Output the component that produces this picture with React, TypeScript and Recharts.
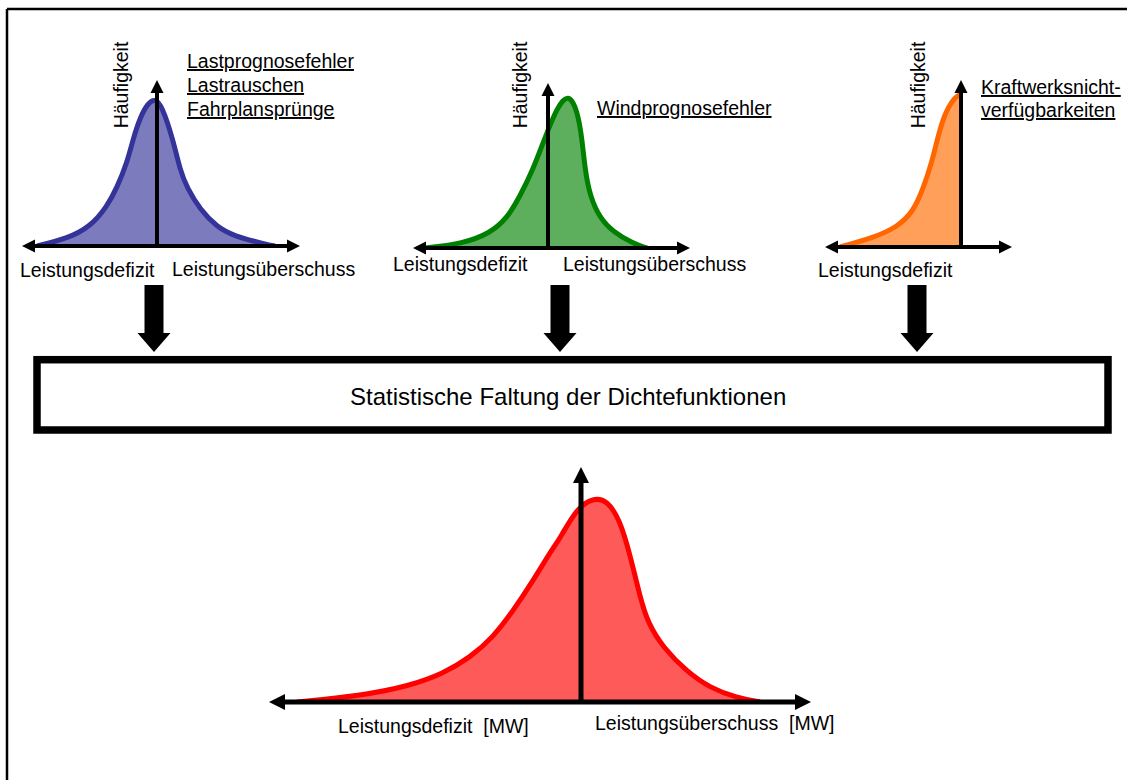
import React from 'react';
import { AreaChart, Area, XAxis, YAxis, ReferenceLine } from 'recharts';

// Leistungsabweichung (relativ zur Null) und relative Häufigkeit je Quelle
const lastX = [-120, -90, -67, -50, -40, -30, -24, -17, -9, -2, 5, 16, 23, 30, 43, 60, 76, 110, 118];
const lastY = [0, 0.05, 0.13, 0.27, 0.4, 0.57, 0.73, 0.88, 0.98, 1.01, 0.96, 0.73, 0.52, 0.4, 0.25, 0.13, 0.07, 0.01, 0];

const windX = [-123, -85, -58, -41, -28, -15, -5, 2, 9, 15, 20, 25, 30, 34, 37, 42, 52, 65, 85, 99];
const windY = [0, 0.03, 0.1, 0.2, 0.35, 0.53, 0.71, 0.83, 0.94, 1.0, 1.02, 0.99, 0.9, 0.74, 0.53, 0.35, 0.2, 0.11, 0.03, 0];

const kwX = [-121, -88, -64, -48, -38, -29, -23, -16, -9, -3, 0];
const kwY = [0, 0.06, 0.13, 0.23, 0.38, 0.56, 0.73, 0.88, 0.96, 1.0, 1.0];

const sumX = [-284, -221, -171, -138, -111, -88, -68, -48, -31, -21, -4, 12, 26, 39, 49, 59, 67, 82, 106, 129, 156, 179];
const sumY = [0, 0.03, 0.08, 0.14, 0.22, 0.32, 0.45, 0.6, 0.74, 0.81, 0.96, 1.01, 1.0, 0.9, 0.73, 0.52, 0.39, 0.27, 0.15, 0.07, 0.02, 0];

const FONT = '"Liberation Sans", Arial, Helvetica, sans-serif';
const PAD = 12;

type Geo = {
  xl: number; xr: number; cx: number; by: number; yt: number; peakY: number;
  head: number; half: number; lw: number;
};

const hArrow = (g: Geo) => (p: any) => {
  const a = Math.min(p.x1, p.x2);
  const b = Math.max(p.x1, p.x2);
  const y = p.y1;
  return (
    <g>
      <line x1={a + g.head - 1} x2={b - g.head + 1} y1={y} y2={y} stroke="#000" strokeWidth={g.lw} />
      <polygon points={`${a},${y} ${a + g.head},${y - g.half} ${a + g.head},${y + g.half}`} fill="#000" />
      <polygon points={`${b},${y} ${b - g.head},${y - g.half} ${b - g.head},${y + g.half}`} fill="#000" />
    </g>
  );
};

const vArrow = (g: Geo) => (p: any) => {
  const top = Math.min(p.y1, p.y2);
  const bot = Math.max(p.y1, p.y2);
  const x = p.x1;
  return (
    <g>
      <line x1={x} x2={x} y1={bot} y2={top + g.head - 1} stroke="#000" strokeWidth={g.lw} />
      <polygon points={`${x},${top} ${x - g.half},${top + g.head} ${x + g.half},${top + g.head}`} fill="#000" />
    </g>
  );
};

function Density({ xs, ys, g, stroke, fill }: { xs: number[]; ys: number[]; g: Geo; stroke: string; fill: string }) {
  const data = xs.map((x, i) => ({ x, y: ys[i] }));
  const w = g.xr - g.xl + 2 * PAD;
  const h = g.by - g.yt + 2 * PAD;
  return (
    <div style={{ position: 'absolute', left: g.xl - PAD, top: g.yt - PAD }}>
      <AreaChart width={w} height={h} data={data} margin={{ top: PAD, right: PAD, bottom: PAD, left: PAD }}>
        <XAxis type="number" dataKey="x" domain={[g.xl - g.cx, g.xr - g.cx]} hide allowDataOverflow />
        <YAxis type="number" domain={[0, (g.by - g.yt) / (g.by - g.peakY)]} hide allowDataOverflow />
        <Area
          type="basis"
          dataKey="y"
          stroke={stroke}
          strokeWidth={5}
          fill={fill}
          fillOpacity={1}
          dot={false}
          activeDot={false}
          isAnimationActive={false}
        />
        <ReferenceLine y={0} shape={hArrow(g)} />
        <ReferenceLine x={0} shape={vArrow(g)} />
      </AreaChart>
    </div>
  );
}

const small = { head: 13, half: 6.5, lw: 4 };
const geoLast: Geo = { xl: 22, xr: 300, cx: 157, by: 246, yt: 80, peakY: 100, ...small };
const geoWind: Geo = { xl: 413, xr: 690, cx: 548, by: 248, yt: 83, peakY: 100, ...small };
const geoKw: Geo = { xl: 825, xr: 1012, cx: 961, by: 247, yt: 80, peakY: 95, ...small };
const geoSum: Geo = { xl: 269, xr: 811, cx: 581, by: 702, yt: 467, peakY: 500, head: 16, half: 8, lw: 5 };

const downArrow = (c: number) =>
  `${c - 9.5},285 ${c + 9.5},285 ${c + 9.5},333 ${c + 16.5},333 ${c},352 ${c - 16.5},333 ${c - 9.5},333`;

const T = (props: any) => <text fontFamily={FONT} fontSize={19.5} fill="#000" {...props} />;
const U = (props: any) => <T textDecoration="underline" {...props} />;
const Hf = ({ x }: { x: number }) => (
  <T transform={`translate(${x},85) rotate(-90)`} textAnchor="middle">Häufigkeit</T>
);

export default function App() {
  return (
    <div style={{ position: 'absolute', left: 0, top: 0, width: 1127, height: 780, overflow: 'hidden', background: '#fff' }}>
      <svg width={1127} height={780} style={{ position: 'absolute', left: 0, top: 0 }}>
        <line x1={7} y1={9} x2={1127} y2={9} stroke="#000" strokeWidth={2.5} />
        <line x1={7} y1={9} x2={7} y2={780} stroke="#000" strokeWidth={2.5} />

        <Hf x={128} />
        <U x={187} y={68}>Lastprognosefehler</U>
        <U x={187} y={92}>Lastrauschen</U>
        <U x={187} y={116}>Fahrplansprünge</U>
        <T x={20} y={277}>Leistungsdefizit</T>
        <T x={172} y={276}>Leistungsüberschuss</T>

        <Hf x={527} />
        <U x={597} y={115}>Windprognosefehler</U>
        <T x={393} y={271}>Leistungsdefizit</T>
        <T x={563} y={271}>Leistungsüberschuss</T>

        <Hf x={925} />
        <U x={981} y={94}>Kraftwerksnicht-</U>
        <U x={981} y={117}>verfügbarkeiten</U>
        <T x={818} y={277}>Leistungsdefizit</T>

        <polygon points={downArrow(154)} fill="#000" />
        <polygon points={downArrow(560)} fill="#000" />
        <polygon points={downArrow(917)} fill="#000" />

        <rect x={37} y={359.7} width={1071} height={70.3} fill="#fff" stroke="#000" strokeWidth={7.5} />
        <text x={350} y={405} fontFamily={FONT} fontSize={24} fill="#000">
          Statistische Faltung der Dichtefunktionen
        </text>

        <T x={338} y={733} style={{ whiteSpace: 'pre' }}>{'Leistungsdefizit  [MW]'}</T>
        <T x={595} y={730} style={{ whiteSpace: 'pre' }}>{'Leistungsüberschuss  [MW]'}</T>
      </svg>

      <Density xs={lastX} ys={lastY} g={geoLast} stroke="#333399" fill="#7B7BBE" />
      <Density xs={windX} ys={windY} g={geoWind} stroke="#008000" fill="#5DAF5D" />
      <Density xs={kwX} ys={kwY} g={geoKw} stroke="#FF6600" fill="#FF9F5A" />
      <Density xs={sumX} ys={sumY} g={geoSum} stroke="#FF0000" fill="#FF5A5A" />
    </div>
  );
}
